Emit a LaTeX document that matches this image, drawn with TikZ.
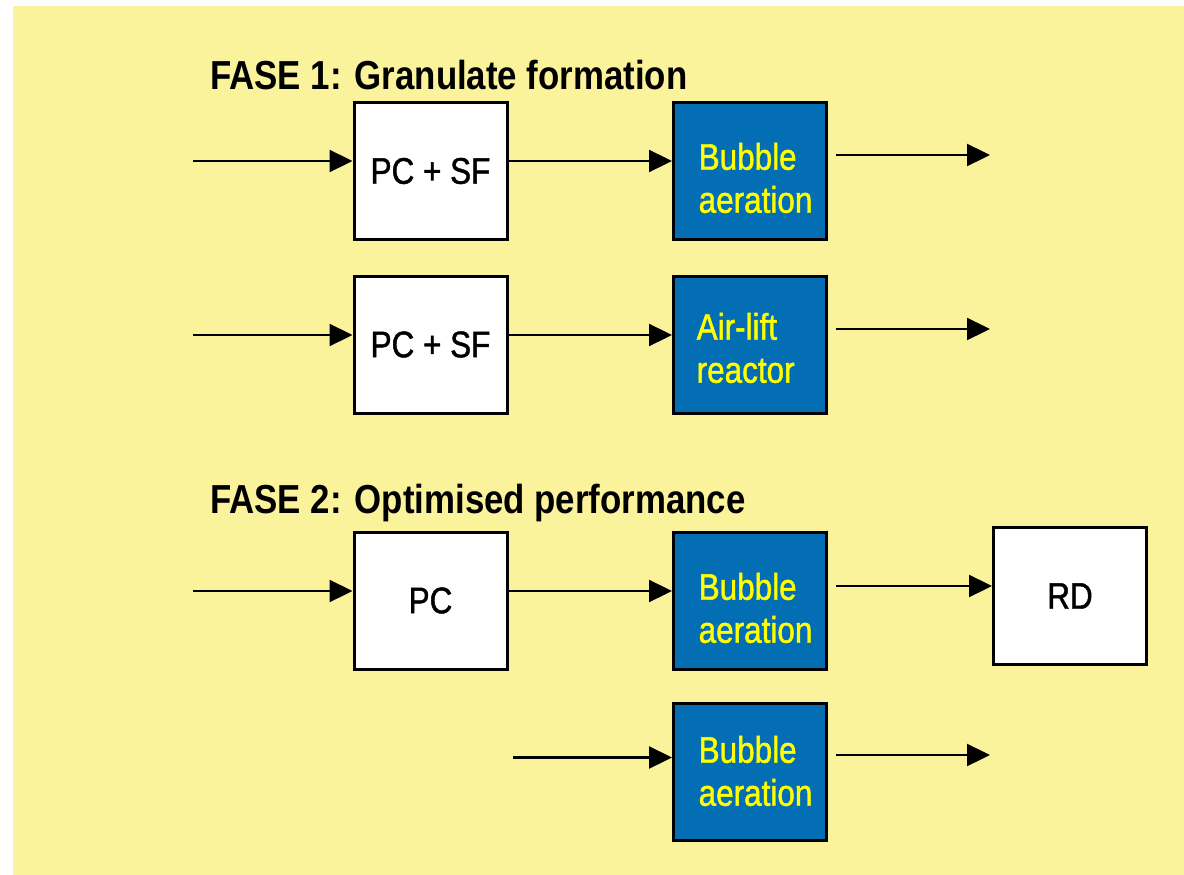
\documentclass[tikz,border=0pt]{standalone}
\usepackage{fontspec}
\setmainfont{Liberation Sans}[FakeStretch=0.86]
\newfontfamily\boxfont{Liberation Sans}[FakeStretch=0.85,FakeBold=1.2]
\usetikzlibrary{arrows.meta}
\definecolor{bgyellow}{RGB}{251,243,156}
\definecolor{boxblue}{RGB}{4,110,180}
\definecolor{txtyellow}{RGB}{255,255,0}
\begin{document}
\begin{tikzpicture}[x=1pt,y=-1pt,
  wbox/.style={draw=black,line width=3pt,fill=white,minimum width=153pt,minimum height=137pt,inner sep=0pt,font=\boxfont\fontsize{37}{43}\selectfont},
  bbox/.style={draw=black,line width=3pt,fill=boxblue,minimum width=153pt,minimum height=137pt,inner sep=0pt},
  btext/.style={text=txtyellow,align=left,inner sep=0pt,anchor=west,font=\boxfont\fontsize{37}{43}\selectfont},
  title/.style={anchor=base west,inner sep=0pt,font=\fontsize{40.5}{48}\selectfont\bfseries},
  arr/.style={line width=2.3pt,-{Triangle[length=23pt,width=22pt]}}]
\useasboundingbox (0,0) rectangle (1184,875);
\fill[bgyellow] (13,6) rectangle (1184,875);

\node[title] (t1) at (210,89) {FASE 1: Granulate formation};
\node[title] (t2) at (210,513) {FASE 2: Optimised performance};

% row 1
\node[wbox] (pc1) at (430.5,171) {PC + SF};
\node[bbox] (b1) at (750,171) {};
\node[btext] (b1t) at ([xshift=26.5pt,yshift=-7pt]b1.west) {Bubble\\aeration};
% row 2
\node[wbox] (pc2) at (430.5,344.5) {PC + SF};
\node[bbox] (a2) at (750,345) {};
\node[btext] (a2t) at ([xshift=24.5pt,yshift=-3pt]a2.west) {Air-lift\\reactor};
% row 3
\node[wbox] (pc3) at (430.5,600.5) {PC};
\node[bbox] (b3) at (750,601) {};
\node[btext] (b3t) at ([xshift=26.5pt,yshift=-7pt]b3.west) {Bubble\\aeration};
\node[wbox] (rd) at (1070,596) {RD};
% row 4
\node[bbox] (b4) at (750,772) {};
\node[btext] (b4t) at ([xshift=26.5pt,yshift=1pt]b4.west) {Bubble\\aeration};

% connectors
\coordinate (s1) at (193,161);
\coordinate (e1) at (990,155);
\draw[arr] (s1) -- (s1 -| pc1.west);
\draw[arr] (pc1.east |- s1) -- (b1.west |- s1);
\draw[arr] ([xshift=7.5pt]b1.east |- e1) -- (e1);

\coordinate (s2) at (193,335);
\coordinate (e2) at (990,329);
\draw[arr] (s2) -- (s2 -| pc2.west);
\draw[arr] (pc2.east |- s2) -- (a2.west |- s2);
\draw[arr] ([xshift=7.5pt]a2.east |- e2) -- (e2);

\coordinate (s3) at (193,591);
\coordinate (r3) at ([yshift=10pt]rd.west);
\draw[arr] (s3) -- (s3 -| pc3.west);
\draw[arr] (pc3.east |- s3) -- (b3.west |- s3);
\draw[arr] ([xshift=7.5pt]b3.east |- r3) -- (r3);

\coordinate (s4) at (513,757.5);
\coordinate (e4) at (990,755);
\draw[arr] (s4) -- (s4 -| b4.west);
\draw[arr] ([xshift=7.5pt]b4.east |- e4) -- (e4);
\end{tikzpicture}
\end{document}
